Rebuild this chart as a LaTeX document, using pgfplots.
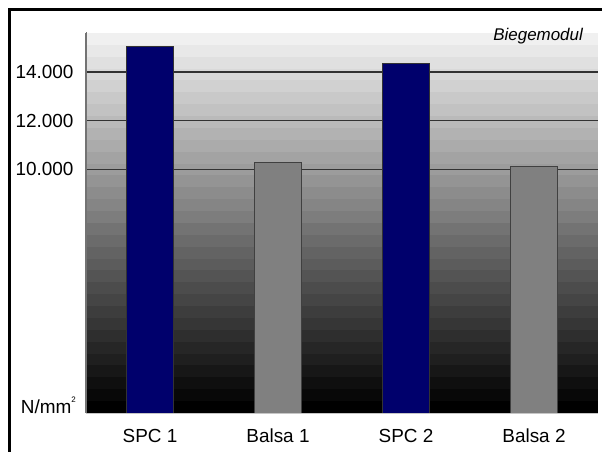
\documentclass[border=0pt]{standalone}
\usepackage{fontspec}
\setmainfont{Liberation Sans}
\usepackage{pgfplots}
\pgfplotsset{compat=1.18}
\definecolor{navybar}{RGB}{0,0,108}
\definecolor{greybar}{RGB}{128,128,128}

\begin{document}
\fontsize{19}{22}\selectfont
\begin{tikzpicture}
\useasboundingbox (0,0) rectangle (602bp,452bp);

% banded background of the plot area, dark at the bottom and light at the top
\foreach \i in {0,...,31}{
  \pgfmathtruncatemacro\lev{round(94*\i/31)}
  \fill[white!\lev!black] (86bp,{39bp+\i*11.875bp}) rectangle (598bp,{39bp+(\i+1)*11.875bp+0.05bp});
}

\begin{axis}[
  at={(86bp,39bp)}, anchor=south west,
  width=512bp, height=380bp, scale only axis,
  xmin=-0.5, xmax=3.5, ymin=0, ymax=15600,
  xtick={0,1,2,3},
  xticklabels={SPC 1, Balsa 1, SPC 2, Balsa 2},
  ytick={10000,12000,14000},
  scaled y ticks=false,
  /pgf/number format/1000 sep={.},
  /pgf/number format/assume math mode=true,
  ymajorgrids,
  grid style={black!80, line width=1.3bp},
  major tick length=0pt,
  axis x line*=bottom, axis y line*=left,
  x axis line style={gray!45, line width=0.8bp},
  y axis line style={black!55, line width=1.5bp},
  tick label style={font=\fontsize{19}{22}\selectfont},
  xticklabel style={anchor=base, yshift=-29bp},
  yticklabel style={anchor=east, xshift=-6bp},
  ybar, bar width=47bp,
]
\addplot[fill=navybar, draw=black!80, line width=0.8bp, bar shift=0pt]
  coordinates {(0,15030) (2,14355)};
\addplot[fill=greybar, draw=black!75, line width=0.8bp, bar shift=0pt]
  coordinates {(1,10290) (3,10135)};

\draw[black!55, line width=1.5bp] (rel axis cs:0,0) -- (rel axis cs:0,1.024);
\end{axis}

\node[anchor=base east, inner sep=0pt] at (76bp,39bp)
  {N/mm\raisebox{0.55em}{\fontsize{8}{9}\selectfont 2}};
\node[anchor=east, inner sep=0pt, font=\itshape\fontsize{17}{20}\selectfont]
  at (583bp,416bp) {Biegemodul};

\draw[line width=2.5bp] (9.5bp,0) -- (9.5bp,442.5bp) -- (602bp,442.5bp);
\end{tikzpicture}
\end{document}
